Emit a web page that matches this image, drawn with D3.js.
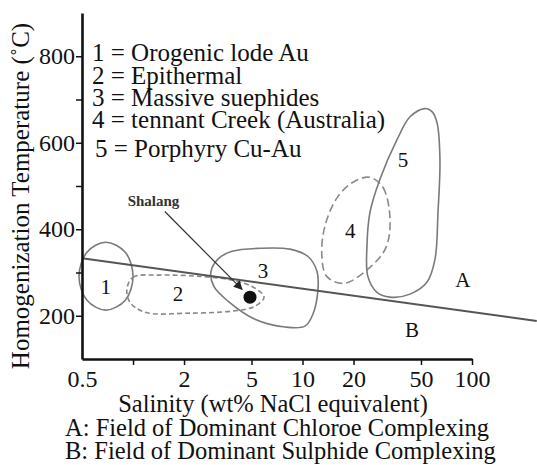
<!DOCTYPE html>
<html>
<head>
<meta charset="utf-8">
<script src="https://cdn.jsdelivr.net/npm/d3@7"></script>
<style>
    body { margin: 0; background: #fff; }
    svg { display: block; font-family: "Liberation Serif", "Times New Roman", serif; }
</style>
</head>
<body>
<svg id="chart" width="537" height="465"></svg>
<script>
// salinity (wt% NaCl eq.) ticks
var salinityTicks = [0.5, 1, 2, 5, 10, 20, 50, 100];
var salinityLabels = ["0.5", "", "2", "5", "10", "20", "50", "100"];
// homogenization temperature ticks
var tempTicks = [200, 300, 400, 500, 600, 700, 800];
var tempLabels = ["200", "", "400", "", "600", "", "800"];

var legendItems = [
    "1 = Orogenic lode Au",
    "2 = Epithermal",
    "3 = Massive suephides",
    "4 = tennant Creek (Australia)",
    "5 = Porphyry Cu-Au"
];

// outlines of the fields, [salinity, temperature]
var field1 = [[1.0, 291], [0.9, 347], [0.69, 370], [0.535, 347], [0.48, 291], [0.535, 236], [0.69, 213], [0.9, 236]];
var field2 = [[0.92, 261], [1.0, 289], [1.44, 294], [2.48, 291], [3.89, 282], [5.24, 264], [5.93, 243], [5.24, 222], [3.89, 211], [2.17, 206], [1.18, 208], [0.96, 231]];
var field3 = [[2.88, 301], [3.17, 331], [3.84, 349], [5.61, 356], [8.43, 354], [10.77, 337], [12.17, 303], [12.34, 261], [11.53, 204], [10.34, 176], [7.88, 174], [5.24, 192], [3.63, 234], [3.0, 268]];
var field4 = [[25.0, 520], [29.8, 497], [32.8, 427], [31.1, 358], [25.0, 312], [17.6, 275], [13.9, 291], [13.0, 340], [13.6, 409], [16.2, 476], [20.1, 510]];
var field5 = [[52.8, 679], [43.1, 660], [36.1, 607], [28.6, 515], [25.0, 439], [24.0, 361], [24.3, 291], [27.5, 254], [32.8, 243], [43.1, 250], [54.3, 278], [60.5, 331], [63.0, 439], [64.7, 561], [62.2, 646], [58.1, 672]];
var fieldDash = [null, "5,3", null, "8,4", null];

var fieldLabelText = ["1", "2", "3", "4", "5", "A", "B"];
var fieldLabelPos = [[0.69, 268], [1.84, 250], [5.85, 305], [19.1, 397], [39.2, 561], [88.4, 284], [44.2, 169]];

// chloride / sulphide boundary
var boundary = [[0.5, 333], [241, 188]];

// Shalang sample
var shalang = [4.9, 243];
var shalangLabel = [0.93, 453];
var shalangArrow = [[1.54, 441], [4.4, 261]];

var svg = d3.select("#chart");

var x = d3.scaleLog().domain([0.5, 100]).range([82, 472]);
var y = d3.scaleLinear().domain([100, 900]).range([359, 13]);

svg.append("defs").append("marker")
    .attr("id", "arrow")
    .attr("viewBox", "0 0 10 10")
    .attr("refX", 9)
    .attr("refY", 5)
    .attr("markerWidth", 9)
    .attr("markerHeight", 9)
    .attr("markerUnits", "userSpaceOnUse")
    .attr("orient", "auto")
  .append("path")
    .attr("d", "M0,0L10,5L0,10z")
    .attr("fill", "#222");

var line = d3.line()
    .x((d) => x(d[0]))
    .y((d) => y(d[1]));

var closedLine = d3.line()
    .x((d) => x(d[0]))
    .y((d) => y(d[1]))
    .curve(d3.curveCatmullRomClosed.alpha(0.5));

// fields
var g = svg.append("g");
[field1, field2, field3, field4, field5].forEach(function(pts, i) {
    g.append("path")
        .attr("d", closedLine(pts))
        .attr("fill", "none")
        .attr("stroke", fieldDash[i] ? "#8a8a8a" : "#7a7a7a")
        .attr("stroke-width", 1.6)
        .attr("stroke-dasharray", fieldDash[i]);
});

g.append("path")
    .attr("d", line(boundary))
    .attr("fill", "none")
    .attr("stroke", "#555")
    .attr("stroke-width", 2);

g.append("circle")
    .attr("cx", x(shalang[0]))
    .attr("cy", y(shalang[1]))
    .attr("r", 6.5)
    .attr("fill", "#111");

g.append("path")
    .attr("d", line(shalangArrow))
    .attr("stroke", "#333")
    .attr("stroke-width", 1.2)
    .attr("marker-end", "url(#arrow)");

g.append("text")
    .attr("x", x(shalangLabel[0]))
    .attr("y", y(shalangLabel[1]))
    .style("font-size", "15px")
    .style("font-weight", "bold")
    .attr("fill", "#333")
    .text("Shalang");

g.selectAll(".field-label")
    .data(fieldLabelText)
    .enter().append("text")
    .attr("class", "field-label")
    .attr("x", (d, i) => x(fieldLabelPos[i][0]))
    .attr("y", (d, i) => y(fieldLabelPos[i][1]))
    .attr("text-anchor", "middle")
    .attr("dy", "0.35em")
    .style("font-size", "21px")
    .attr("fill", "#111")
    .text((d) => d);

// axes
var xAxis = svg.append("g")
    .attr("transform", "translate(0," + y(100) + ")")
    .call(d3.axisBottom(x)
        .tickValues(salinityTicks)
        .tickFormat((d, i) => salinityLabels[i])
        .tickSizeInner(6)
        .tickSizeOuter(0)
        .tickPadding(5));

var yAxis = svg.append("g")
    .attr("transform", "translate(" + x(0.5) + ",0)")
    .call(d3.axisLeft(y)
        .tickValues(tempTicks)
        .tickFormat((d, i) => tempLabels[i])
        .tickSizeInner(6)
        .tickSizeOuter(0)
        .tickPadding(1));

[xAxis, yAxis].forEach(function(a) {
    a.select(".domain").attr("stroke", "#111").attr("stroke-width", 2.6);
    a.selectAll(".tick line").attr("stroke", "#111").attr("stroke-width", 1.5);
    a.selectAll(".tick text")
        .style("font-family", "'Liberation Serif', 'Times New Roman', serif")
        .style("font-size", "24px")
        .attr("fill", "#111");
});
xAxis.select(".tick:first-of-type line").remove();

svg.append("text")
    .attr("transform", "translate(29,196) rotate(-90)")
    .attr("text-anchor", "middle")
    .style("font-size", "25px")
    .attr("fill", "#111")
    .text("Homogenization Temperature (˚C)");

svg.append("text")
    .attr("x", 273)
    .attr("y", 412)
    .attr("text-anchor", "middle")
    .style("font-size", "24.5px")
    .attr("fill", "#111")
    .text("Salinity (wt% NaCl equivalent)");

svg.append("text")
    .attr("x", 65)
    .attr("y", 436)
    .style("font-size", "24.5px")
    .attr("fill", "#111")
    .text("A: Field of Dominant Chloroe Complexing");

svg.append("text")
    .attr("x", 65)
    .attr("y", 459)
    .style("font-size", "24.5px")
    .attr("fill", "#111")
    .text("B: Field of Dominant Sulphide Complexing");

// legend
var legendY = [61, 84, 106, 128, 157];
svg.selectAll(".legend")
    .data(legendItems)
    .enter().append("text")
    .attr("class", "legend")
    .attr("x", (d, i) => i === 4 ? 95 : 92)
    .attr("y", (d, i) => legendY[i])
    .style("font-size", "25px")
    .attr("fill", "#111")
    .text((d) => d);
</script>
</body>
</html>
